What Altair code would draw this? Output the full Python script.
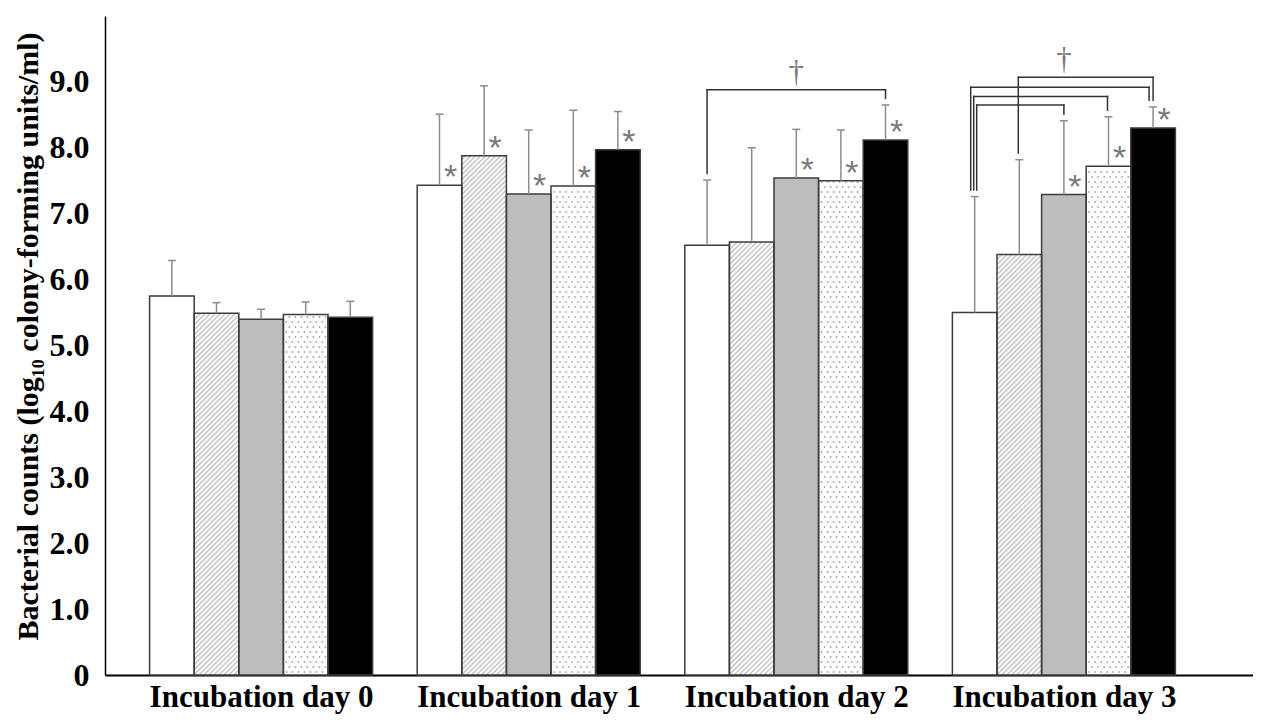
import json
import altair as alt
import pandas as pd

# ---------------- data ----------------
groups = ["Incubation day 0", "Incubation day 1", "Incubation day 2", "Incubation day 3"]
series = ["Group 1", "Group 2", "Group 3", "Group 4", "Group 5"]
series_fill = ["#ffffff", "#ffffff", "#bdbdbd", "#ffffff", "#000000"]
series_pattern = ["none", "hatch", "none", "dots", "none"]

mean_day0 = [5.75, 5.49, 5.40, 5.47, 5.43]
mean_day1 = [7.43, 7.88, 7.30, 7.42, 7.97]
mean_day2 = [6.52, 6.57, 7.54, 7.50, 8.12]
mean_day3 = [5.50, 6.38, 7.29, 7.72, 8.30]

upper_day0 = [6.29, 5.65, 5.55, 5.66, 5.67]
upper_day1 = [8.51, 8.94, 8.27, 8.57, 8.55]
upper_day2 = [7.51, 8.00, 8.28, 8.27, 8.65]
upper_day3 = [7.26, 7.82, 8.41, 8.47, 8.62]

star_day0 = [0, 0, 0, 0, 0]
star_day1 = [1, 1, 1, 1, 1]
star_day2 = [0, 0, 1, 1, 1]
star_day3 = [0, 0, 1, 1, 1]

# brackets: group index, from bar, to bar, level (log10 cfu/ml)
bracket_group = [2, 3, 3, 3, 3]
bracket_from = [0, 0, 0, 0, 1]
bracket_to = [4, 2, 3, 4, 4]
bracket_level = [8.88, 8.65, 8.78, 8.92, 9.07]
dagger_groups = [2, 3]

y_ticks = [0, 1, 2, 3, 4, 5, 6, 7, 8, 9]
y_tick_labels = ["0", "1.0", "2.0", "3.0", "4.0", "5.0", "6.0", "7.0", "8.0", "9.0"]
y_title = "Bacterial counts (log\u2081\u2080 colony-forming units/ml)"

means = [mean_day0, mean_day1, mean_day2, mean_day3]
uppers = [upper_day0, upper_day1, upper_day2, upper_day3]
stars = [star_day0, star_day1, star_day2, star_day3]

# ---------------- layout ----------------
W, H = 1148, 659
XMAX, YMAX = 25.74, 10.0
BAR_START, GROUP_STEP = 1, 6
PX_X = W / XMAX
PX_Y = H / YMAX
SERIF = "Liberation Serif"
SANS = "Liberation Sans"

leg_off_px = [[0, 0], [2, 0], [-1, -1], [-4, -4], [-1, 0]]

# ---------------- tables ----------------
rows = []
for g, grp in enumerate(groups):
    for i, s in enumerate(series):
        x0 = BAR_START + GROUP_STEP * g + i
        rows.append(dict(group=grp, series=s, x0=x0, x1=x0 + 1, xc=x0 + 0.5,
                         mean=means[g][i], upper=uppers[g][i], base=0.0,
                         fill=series_fill[i], star=stars[g][i],
                         cap_l=x0 + 0.5 - 4 / PX_X, cap_r=x0 + 0.5 + 4 / PX_X,
                         star_x=x0 + 0.5 + 11 / PX_X, pattern=series_pattern[i]))
bars = pd.DataFrame(rows)

# hatch lines (45 degrees on screen), clipped to each hatched bar
hatch_rows = []
k = PX_X / PX_Y
step = 5.0 / PX_Y
for r in bars[bars.pattern == "hatch"].itertuples():
    c = -k
    while c < r.mean:
        xs = max(0.0, -c / k)
        xe = min(1.0, (r.mean - c) / k)
        if xe - xs > 1e-6:
            hatch_rows.append(dict(hx=r.x0 + xs, hx2=r.x0 + xe,
                                   hy=c + k * xs, hy2=c + k * xe))
        c += step
hatch = pd.DataFrame(hatch_rows)

# dot pattern
dot_rows = []
for r in bars[bars.pattern == "dots"].itertuples():
    top_px = r.mean * PX_Y
    yy, row = 3.0, 0
    while yy < top_px - 1:
        xx = 3.0 + (3.0 if row % 2 else 0.0)
        while xx < PX_X - 1.5:
            dot_rows.append(dict(dx=r.x0 + xx / PX_X, dy=yy / PX_Y))
            xx += 6.0
        yy += 5.0
        row += 1
dots = pd.DataFrame(dot_rows)

# brackets
leg_rows, hor_rows = [], []
for b in range(len(bracket_group)):
    g = bracket_group[b]
    fx = BAR_START + GROUP_STEP * g + bracket_from[b] + 0.5 + leg_off_px[b][0] / PX_X
    tx = BAR_START + GROUP_STEP * g + bracket_to[b] + 0.5 + leg_off_px[b][1] / PX_X
    lvl = bracket_level[b]
    leg_rows.append(dict(lx=fx, ly=uppers[g][bracket_from[b]] + 0.1, ly2=lvl))
    leg_rows.append(dict(lx=tx, ly=uppers[g][bracket_to[b]] + 0.1, ly2=lvl))
    hor_rows.append(dict(hx=fx, hx2=tx, hy=lvl))
legs = pd.DataFrame(leg_rows)
hors = pd.DataFrame(hor_rows)
daggers = pd.DataFrame([dict(gx=BAR_START + GROUP_STEP * g + 2.5,
                             gy=max(l for gg, l in zip(bracket_group, bracket_level) if gg == g))
                        for g in dagger_groups])

# ---------------- scales / axes ----------------
x_scale = alt.Scale(domain=[0, XMAX], nice=False, zero=False)
y_scale = alt.Scale(domain=[0, YMAX], nice=False)
label_centers = [BAR_START + GROUP_STEP * g + len(series) / 2 for g in range(len(groups))]

x_axis = alt.Axis(values=label_centers,
                  labelExpr=f"{json.dumps(groups)}[floor(datum.value / {GROUP_STEP})]",
                  title=None, grid=False, ticks=False, domainColor="#000000",
                  domainWidth=2, labelFont=SERIF, labelFontWeight="bold",
                  labelFontSize=31, labelColor="#000000", labelPadding=7,
                  labelFlush=False, labelOverlap=False, labelLimit=0)
y_axis = alt.Axis(values=y_ticks,
                  labelExpr=f"{json.dumps(y_tick_labels)}[round(datum.value)]",
                  title=y_title, grid=False, ticks=False, domainColor="#000000",
                  domainWidth=1.5, labelFont=SERIF, labelFontWeight="bold",
                  labelFontSize=32, labelColor="#000000", labelPadding=16,
                  titleFont=SERIF, titleFontWeight="bold", titleFontSize=30,
                  titleColor="#000000", titleX=-68, titleY=320, titleAngle=270,
                  titleAlign="center", titleBaseline="alphabetic", titleLimit=0)


def X(f):
    return alt.X(f, type="quantitative", scale=x_scale, axis=x_axis)


def Y(f):
    return alt.Y(f, type="quantitative", scale=y_scale, axis=y_axis)


base_bars = alt.Chart(bars)

fill_layer = base_bars.mark_rect(strokeWidth=0).encode(
    x=X("x0"), x2="x1", y=Y("mean"), y2="base",
    fill=alt.Fill("fill:N", scale=None))

hatch_layer = alt.Chart(hatch).mark_rule(color="#c6c6c6", strokeWidth=1.5).encode(
    x=X("hx"), x2="hx2", y=Y("hy"), y2="hy2")

dots_layer = alt.Chart(dots).mark_square(size=2.5, color="#9a9a9a", opacity=1).encode(
    x=X("dx"), y=Y("dy"))

outline_layer = base_bars.mark_rect(fillOpacity=0, stroke="#3c3c3c", strokeWidth=1.5).encode(
    x=X("x0"), x2="x1", y=Y("mean"), y2="base")

stem_layer = base_bars.mark_rule(color="#8c8c8c", strokeWidth=1.5).encode(
    x=X("xc"), y=Y("mean"), y2="upper")

cap_layer = base_bars.mark_rule(color="#8c8c8c", strokeWidth=1.5).encode(
    x=X("cap_l"), x2="cap_r", y=Y("upper"))

star_layer = base_bars.transform_filter("datum.star == 1").mark_text(
    text="*", font=SANS, fontSize=34, color="#7a7a7a", baseline="alphabetic",
    align="center", dy=3).encode(x=X("star_x"), y=Y("mean"))

leg_layer = alt.Chart(legs).mark_rule(color="#333333", strokeWidth=1.5, strokeCap="square").encode(
    x=X("lx"), y=Y("ly"), y2="ly2")

hor_layer = alt.Chart(hors).mark_rule(color="#333333", strokeWidth=1.5, strokeCap="square").encode(
    x=X("hx"), x2="hx2", y=Y("hy"))

dagger_layer = alt.Chart(daggers).mark_text(
    text="\u2020", font=SERIF, fontSize=31, color="#7a7a7a", baseline="alphabetic",
    align="center", dy=-8).encode(x=X("gx"), y=Y("gy"))

chart = alt.layer(
    fill_layer, hatch_layer, dots_layer, outline_layer, stem_layer, cap_layer,
    star_layer, leg_layer, hor_layer, dagger_layer
).properties(
    width=W, height=H,
    autosize=alt.AutoSizeParams(type="none"),
    padding={"left": 97, "top": 8, "right": 0, "bottom": 40},
    background="#ffffff",
).configure_view(stroke="transparent")

chart.save("out.html", embed_options={"renderer": "svg", "actions": False})
